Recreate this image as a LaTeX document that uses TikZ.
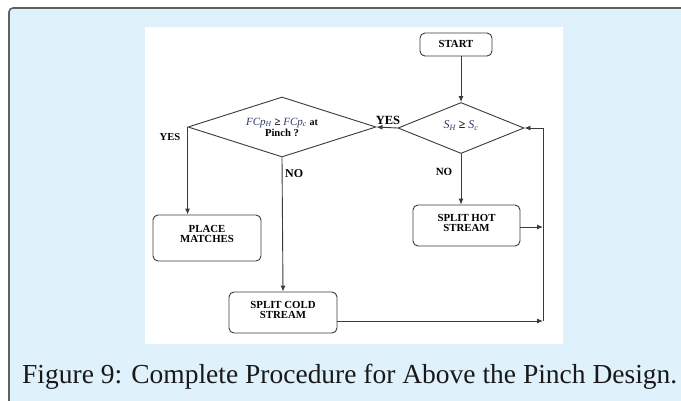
\documentclass[tikz,border=0pt]{standalone}
\usepackage{fontspec}
\setmainfont{Liberation Serif}
\usetikzlibrary{shapes.geometric,arrows.meta,calc}
\definecolor{bgblue}{HTML}{DFF1FB}
\definecolor{framegray}{HTML}{606060}
\definecolor{linegray}{HTML}{3A3A3A}
\definecolor{mathblue}{HTML}{2E3A6A}
\tikzset{
  box/.style={draw=linegray, line width=0.9pt, rounded corners=5pt, fill=white, inner sep=0pt, align=center, font=\fontsize{10.8}{11}\selectfont\bfseries},
  decide/.style={draw=linegray, line width=0.9pt, diamond, inner sep=0pt, fill=white, align=center, font=\fontsize{10.6}{12}\selectfont\bfseries},
  conn/.style={draw=linegray, line width=0.9pt},
  arr/.style={conn, -{Latex[length=6pt,width=5pt]}},
  lbl/.style={font=\fontsize{10.6}{12}\selectfont\bfseries, inner sep=0pt}
}
\newcommand{\mth}[1]{\textcolor{mathblue}{\mdseries\itshape #1}}
\begin{document}
\begin{tikzpicture}[x=1pt,y=-1pt]
\useasboundingbox (0,0) rectangle (681,400);
% frame and panel
\begin{scope}
\clip (0,0) rectangle (681,400);
\draw[framegray, line width=1.6pt, fill=bgblue, rounded corners=4pt] (9,8) rectangle (700,420);
\end{scope}
\fill[white] (145,27) rectangle (563,344);
% nodes
\node[box, minimum width=72pt, minimum height=23pt] (start) at (456,44.5) {\raisebox{1pt}{START}};
\node[decide, aspect=2.47, minimum width=126pt, minimum height=51pt] (dR) at (461,128)
  {\raisebox{6pt}{\fontsize{12}{13}\selectfont\mth{S\textsubscript{H}} ≥ \mth{S\textsubscript{c}}}};
\node[decide, aspect=3.13, minimum width=188pt, minimum height=60pt] (dL) at (282,127)
  {\fontsize{11}{12}\selectfont\mth{FCp\textsubscript{H}} ≥ \mth{FCp\textsubscript{c}} {\fontsize{10}{11}\selectfont at}\\[-1pt] {\fontsize{10.6}{11}\selectfont Pinch ?}};
\node[box, minimum width=108pt, minimum height=46pt] (place) at (207,238) {\raisebox{8pt}{\shortstack{PLACE\\MATCHES}}};
\node[box, minimum width=108pt, minimum height=41pt] (cold) at (283,312.5) {\raisebox{5pt}{\shortstack{SPLIT COLD\\STREAM}}};
\node[box, minimum width=107pt, minimum height=41pt] (hot) at (466.5,225.5) {\raisebox{5pt}{\shortstack{SPLIT HOT\\STREAM}}};
\coordinate (j1) at (543,321);
\coordinate (j2) at (543,128);
\coordinate (j3) at (543,227);
\coordinate (coldout) at ($(cold.east)+(0,8.5)$);
\coordinate (hotout) at ($(hot.east)+(0,1.5)$);
% connectors
\draw[arr] (dR.north |- start.south) -- (dR.north);
\draw[arr] (dR.west) -- (dL.east);
\draw[arr] (dL.west) -- (dL.west |- place.north);
\draw[arr] (dL.south) -- (cold.north);
\draw[arr] (dR.south) -- (dR.south |- hot.north);
\draw[arr] (hotout) -- (j3);
\draw[arr] (coldout) -- (j1);
\draw[arr] (j1) -- (j2) -- (dR.east);
% labels
\node[lbl, font=\fontsize{12.5}{13}\selectfont\bfseries] (yes1) at (388,120) {YES};
\node[lbl] (yes2) at (170,137) {YES};
\node[lbl, font=\fontsize{12}{13}\selectfont\bfseries, anchor=west] (no1) at (285,174) {NO};
\node[lbl, font=\fontsize{11}{12}\selectfont\bfseries] (no2) at (444,172) {NO};
% caption
\node[anchor=base west, inner sep=0pt, text=black!90] (cap) at (22,383)
  {\resizebox{655pt}{!}{\fontsize{25}{28}\selectfont Figure 9: Complete Procedure for Above the Pinch Design.}};
\end{tikzpicture}
\end{document}
